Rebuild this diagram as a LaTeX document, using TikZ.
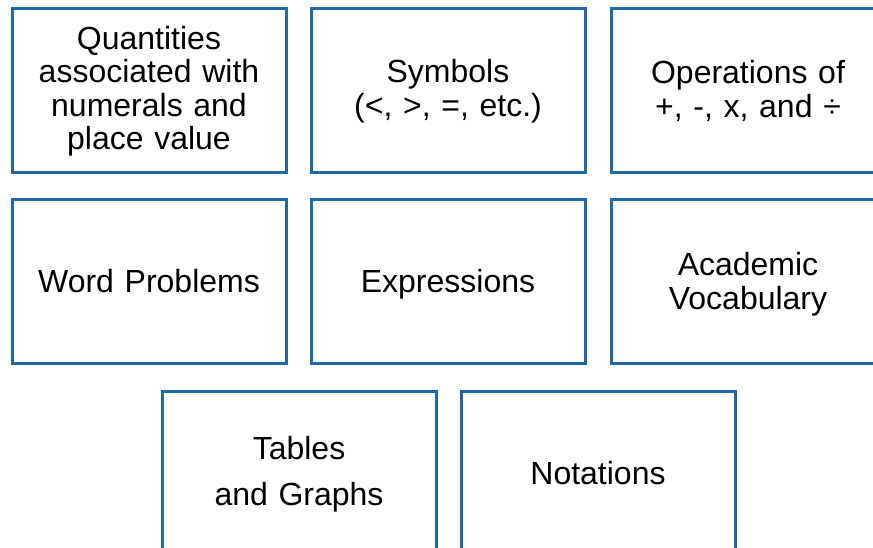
\documentclass[tikz,border=0pt]{standalone}
\usepackage{fontspec}
\setmainfont{Liberation Sans}
\definecolor{cardblue}{RGB}{30,104,172}
\begin{document}
\begin{tikzpicture}[x=1pt,y=-1pt,
  card/.style={draw=cardblue, line width=3pt, fill=white, rectangle,
    minimum width=274pt, minimum height=164pt, inner sep=0pt,
    align=center, text width=260pt,
    font=\fontsize{32}{33.5}\selectfont},
  label/.style={align=center, text width=260pt, inner sep=0pt,
    font=\fontsize{32}{33.5}\selectfont}]
  \useasboundingbox (0,0) rectangle (873,548);
  \clip (0,0) rectangle (873,548);

  % first row
  \node[card] (quant) at (149,91) {Quantities\\associated with\\numerals and\\place value};
  \node[card] (symb)  at (448,91) {Symbols\\(<, >, =, etc.)};
  \node[card] (oper)  at (748,91) {Operations of\\+, -, x, and ÷};

  % second row: frames first, then the labels placed by baseline
  \node[card] (word)  at (149,281.5) {};
  \node[card] (expr)  at (448,281.5) {};
  \node[card] (acad)  at (748,281.5) {};
  \node[label] (wordt) at (word.center) {Word Problems};
  \node[label, yshift=-3pt] (exprt) at (expr.center) {Expressions};
  \node[label, yshift=-2.5pt] (acadt) at (acad.center) {Academic\\Vocabulary};

  % third row
  \node[card] (tabl) at (299,473) {};
  \node[card] (nota) at (598,473) {};
  \node[label, font=\fontsize{32}{46}\selectfont, yshift=-1pt] (tablt) at (tabl.center) {Tables\\and Graphs};
  \node[label] (notat) at (nota.center) {Notations};
\end{tikzpicture}
\end{document}
